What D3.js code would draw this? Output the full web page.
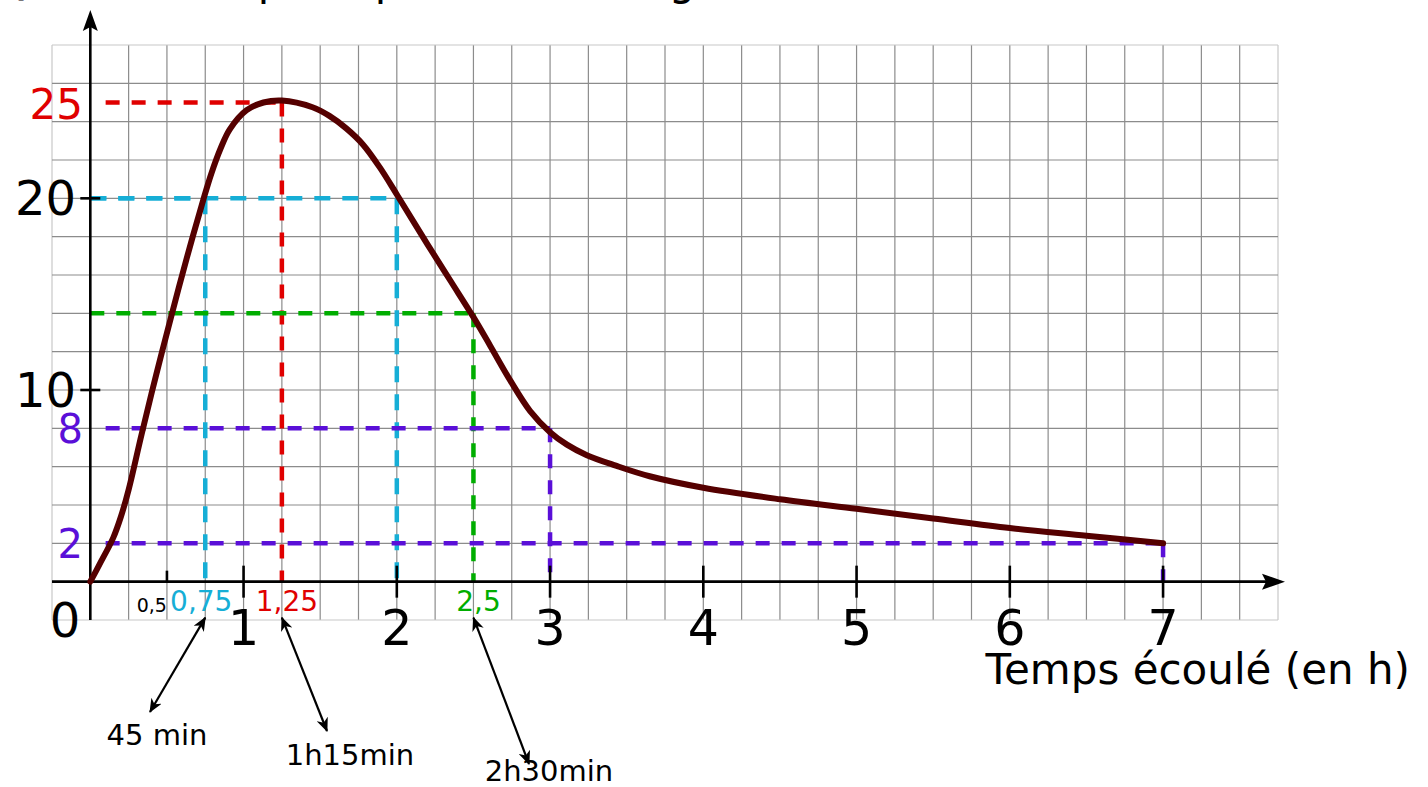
<!DOCTYPE html>
<html>
<head>
<meta charset="utf-8">
<script src="https://d3js.org/d3.v7.min.js"></script>
<style>
  html, body { margin: 0; padding: 0; background: #fff; }
  svg { display: block; font-family: "DejaVu Sans", sans-serif; }
</style>
</head>
<body>
<svg id="chart" width="1428" height="787"></svg>
<script>
// ---- data ----
const times = [0, 0.06, 0.15, 0.2, 0.25, 0.335, 0.43, 0.53, 0.63, 0.74, 0.79, 0.85, 0.91, 1.02, 1.13, 1.25, 1.45, 1.56, 1.67, 1.78, 1.89, 2.0, 2.2, 2.35, 2.5, 2.61, 2.74, 2.87, 3.0, 3.11, 3.24, 3.43, 3.65, 4.0, 4.5, 5.0, 5.5, 6.0, 6.5, 7.0];
const concentration = [0, 0.9, 2.3, 3.4, 4.8, 7.7, 10.8, 13.9, 16.9, 20.0, 21.3, 22.6, 23.6, 24.6, 25.0, 25.1, 24.75, 24.3, 23.65, 22.8, 21.6, 20.2, 17.6, 15.7, 13.8, 12.3, 10.5, 8.9, 7.8, 7.15, 6.6, 6.05, 5.5, 4.9, 4.3, 3.8, 3.3, 2.8, 2.4, 2.0];
const xTickValues = [1, 2, 3, 4, 5, 6, 7];
const xTickLabels = ["1", "2", "3", "4", "5", "6", "7"];
const yTickValues = [10, 20];
const yTickLabels = ["10", "20"];
const titleText = "Quantité de principe actif (en mg/L)";
const xAxisTitle = "Temps écoulé (en h)";
// guide lines: time, level, colour name, horizontal start time
const guideTimes  = [1.25, 0.75, 2, 2.5, 3, 7];
const guideLevels = [25, 20, 20, 14, 8, 2];
const guideColors = ["red", "cyan", "cyan", "green", "purple", "purple"];
const guideStarts = [0.1, 0, 0, 0, 0.1, 0.1];
// coloured value labels
const levelLabels = [{v: 25, t: "25", c: "red"}, {v: 8, t: "8", c: "purple"}, {v: 2, t: "2", c: "purple"}];
const timeLabels = [{v: 0.75, t: "0,75", c: "cyan"}, {v: 1.25, t: "1,25", c: "red"}, {v: 2.5, t: "2,5", c: "green"}];
const durationTimes = [0.75, 1.25, 2.5];
const durationLabels = ["45 min", "1h15min", "2h30min"];

// ---- styles ----
const palette = { red: "#e00000", cyan: "#16aed6", green: "#00ad00", purple: "#5a0fd8" };

const svg = d3.select("#chart");
const x = d3.scaleLinear().domain([-0.25, 7.75]).range([52, 1278]);
const y = d3.scaleLinear().domain([-2, 28]).range([620, 45]);

// title (mostly clipped above the window, as in the reference)
svg.append("text").attr("x", -4).attr("y", -5).attr("font-size", 42).attr("fill", "#000").text(titleText);

// ---- grid ----
const gx = d3.range(-0.25, 7.76, 0.25);
const gy = d3.range(-2, 28.1, 2);
const grid = svg.append("g").attr("stroke", "#8c8c8c").attr("stroke-width", 1.2);
grid.selectAll("line.v").data(gx).join("line")
  .attr("x1", d => x(d)).attr("x2", d => x(d)).attr("y1", y(-2)).attr("y2", y(28))
  .attr("stroke", (d, i) => (i === 0 || i === gx.length - 1) ? "#c8c8c8" : null);
grid.selectAll("line.h").data(gy).join("line")
  .attr("y1", d => y(d)).attr("y2", d => y(d)).attr("x1", x(-0.25)).attr("x2", x(7.75))
  .attr("stroke", (d, i) => (i === 0 || i === gy.length - 1) ? "#c8c8c8" : null);

// ---- guide dashed lines ----
const guides = svg.append("g").attr("fill", "none").attr("stroke-width", 4.5);
guideTimes.forEach((t, i) => {
  const col = palette[guideColors[i]];
  const dash = guideColors[i] === "cyan" ? "16,12" : "14,12";
  guides.append("line").attr("x1", x(guideStarts[i])).attr("x2", x(t))
    .attr("y1", y(guideLevels[i])).attr("y2", y(guideLevels[i]))
    .attr("stroke", col).attr("stroke-dasharray", dash);
  guides.append("line").attr("x1", x(t)).attr("x2", x(t))
    .attr("y1", y(guideLevels[i])).attr("y2", y(0))
    .attr("stroke", col).attr("stroke-dasharray", dash);
});

// ---- axes ----
const axes = svg.append("g").attr("stroke", "#000").attr("stroke-width", 2.6);
axes.append("line").attr("x1", x(-0.25)).attr("x2", 1268).attr("y1", y(0)).attr("y2", y(0));
axes.append("line").attr("x1", x(0)).attr("x2", x(0)).attr("y1", y(-2)).attr("y2", 26);
svg.append("path").attr("fill", "#000")
  .attr("d", `M${x(0)},10 L${x(0) + 7.5},31 L${x(0)},27 L${x(0) - 7.5},31 Z`);
svg.append("path").attr("fill", "#000")
  .attr("d", `M1285,${y(0)} L1262,${y(0) - 8} L1266,${y(0)} L1262,${y(0) + 8} Z`);

// x ticks
axes.selectAll("line.xt").data(xTickValues).join("line")
  .attr("x1", d => x(d)).attr("x2", d => x(d)).attr("y1", y(0) - 16).attr("y2", y(0) + 16);
axes.append("line").attr("x1", x(0.5)).attr("x2", x(0.5)).attr("y1", y(0) - 11).attr("y2", y(0));
// y ticks
axes.selectAll("line.yt").data(yTickValues).join("line")
  .attr("x1", x(0) - 10).attr("x2", x(0) + 10).attr("y1", d => y(d)).attr("y2", d => y(d));

// tick labels
svg.selectAll("text.xl").data(xTickValues).join("text")
  .attr("x", d => x(d)).attr("y", y(0) + 63).attr("text-anchor", "middle")
  .attr("font-size", 49).text((d, i) => xTickLabels[i]);
svg.append("text").attr("x", 65).attr("y", 637).attr("text-anchor", "middle").attr("font-size", 48).text("0");
svg.selectAll("text.yl").data(yTickValues).join("text")
  .attr("x", 76).attr("y", d => y(d) + 17).attr("text-anchor", "end")
  .attr("font-size", 48).text((d, i) => yTickLabels[i]);
svg.append("text").attr("x", x(0.5)).attr("y", 612).attr("text-anchor", "end").attr("font-size", 19).text("0,5");

svg.selectAll("text.ll").data(levelLabels).join("text")
  .attr("x", 83).attr("y", d => y(d.v) + (d.v === 25 ? 16 : 15)).attr("text-anchor", "end")
  .attr("font-size", d => d.v === 25 ? 42 : 40).attr("fill", d => palette[d.c]).text(d => d.t);
svg.selectAll("text.tl").data(timeLabels).join("text")
  .attr("x", d => x(d.v) + (d.v === 0.75 ? -4 : 5)).attr("y", 611).attr("text-anchor", "middle")
  .attr("font-size", 28).attr("fill", d => palette[d.c]).text(d => d.t);

// axis title
svg.append("text").attr("x", 1410).attr("y", 684).attr("text-anchor", "end")
  .attr("font-size", 42).text(xAxisTitle);

// ---- curve ----
const pts = times.map((t, i) => [t, concentration[i]]);
svg.append("path").datum(pts)
  .attr("fill", "none").attr("stroke", "#550000").attr("stroke-width", 6)
  .attr("stroke-linecap", "round").attr("stroke-linejoin", "round")
  .attr("d", d3.line().x(d => x(d[0])).y(d => y(d[1])).curve(d3.curveCatmullRom.alpha(0.5)));

// ---- duration annotations (double arrows) ----
const defs = svg.append("defs");
defs.append("marker").attr("id", "ah").attr("viewBox", "0 0 14 12").attr("refX", 13).attr("refY", 6)
  .attr("markerWidth", 14).attr("markerHeight", 12).attr("markerUnits", "userSpaceOnUse").attr("orient", "auto-start-reverse")
  .append("path").attr("d", "M0,0 L14,6 L0,12 L4,6 Z").attr("fill", "#000");
const arrowEnds = [[150, 712], [327, 731], [529, 764]];
const labelPos = [[157, 745], [350, 765], [549, 781]];
durationTimes.forEach((t, i) => {
  svg.append("line").attr("x1", x(t)).attr("y1", y(0) + 36).attr("x2", arrowEnds[i][0]).attr("y2", arrowEnds[i][1])
    .attr("stroke", "#000").attr("stroke-width", 2.2)
    .attr("marker-start", "url(#ah)").attr("marker-end", "url(#ah)");
  svg.append("text").attr("x", labelPos[i][0]).attr("y", labelPos[i][1]).attr("text-anchor", "middle")
    .attr("font-size", 29).text(durationLabels[i]);
});
</script>
</body>
</html>
